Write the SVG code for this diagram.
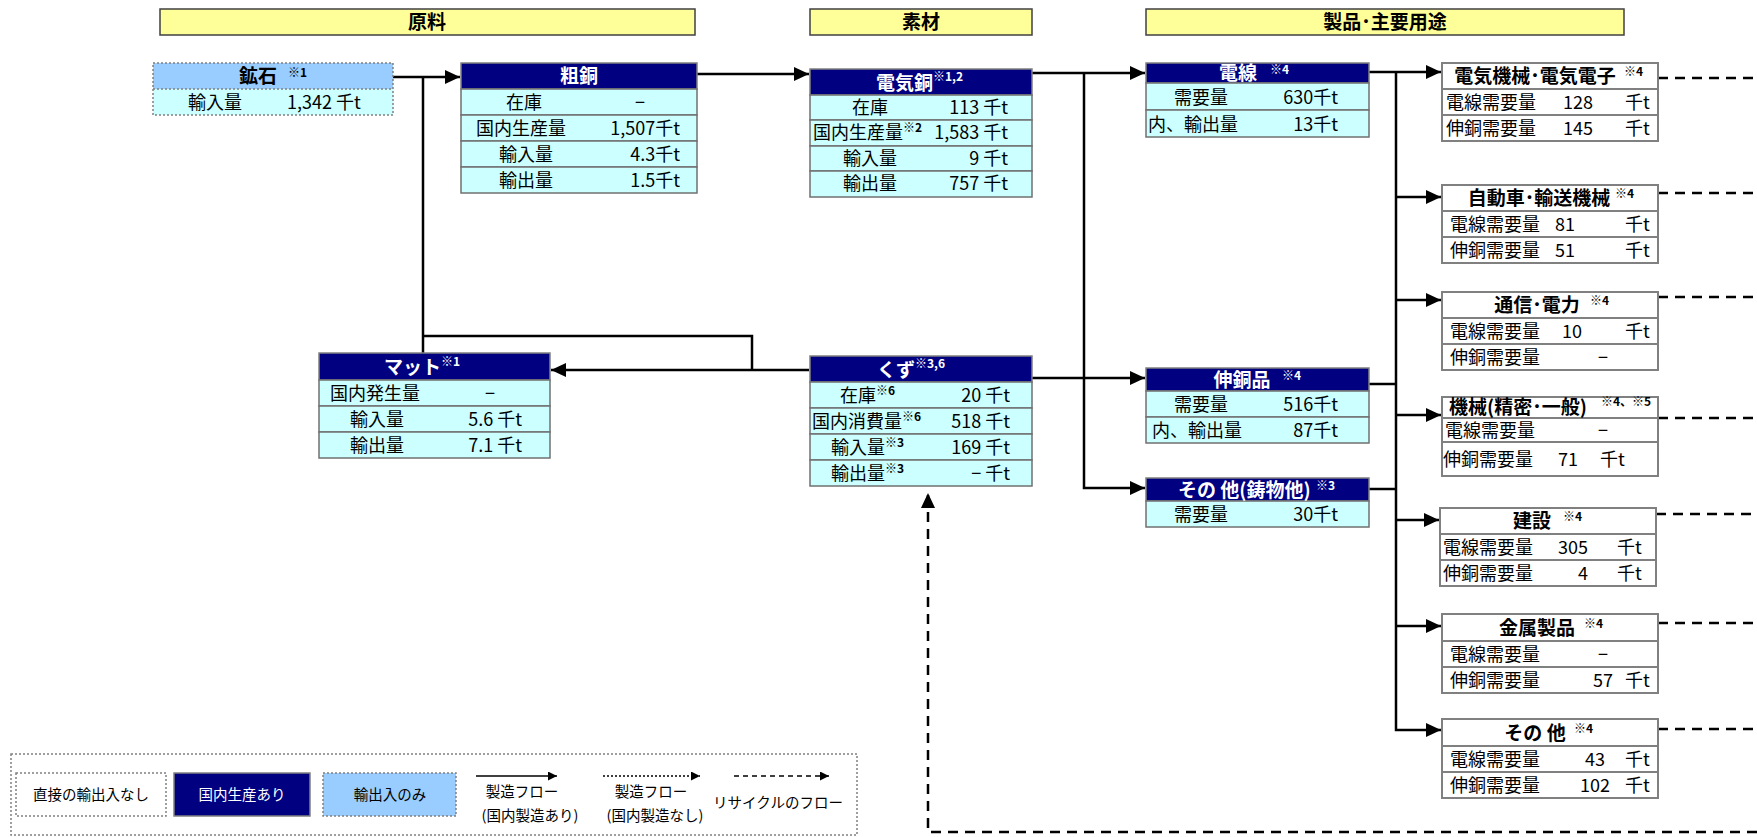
<svg xmlns="http://www.w3.org/2000/svg" width="1757" height="837" viewBox="0 0 1757 837">
<style>
text{font-family:"Noto Sans CJK JP","Noto Sans CJK SC",sans-serif;font-size:18px;fill:#000}
.b{font-weight:bold;font-size:19px}
.w{fill:#fff}
.m{text-anchor:middle}
.e{text-anchor:end}
.sup{font-size:12px;font-weight:bold}
.lg{font-size:14.5px}
.bar{fill:#FFFF99;stroke:#404040;stroke-width:1.5}
.hdr{fill:#000080;stroke:#808080;stroke-width:1.5}
.cell{fill:#CCFFFF;stroke:#707070;stroke-width:1.5}
.wc{fill:#fff;stroke:#808080;stroke-width:2}
.dot{stroke:#808080;stroke-width:1.5;stroke-dasharray:2 2}
.flow{stroke:#000;stroke-width:2.5;fill:none}
.rec{stroke:#000;stroke-width:2.5;stroke-dasharray:10 7;fill:none}
</style>
<defs>
<marker id="ah" markerUnits="userSpaceOnUse" markerWidth="16" markerHeight="14" refX="15" refY="7" orient="auto"><path d="M0,0 L15,7 L0,14 z" fill="#000"/></marker>
<marker id="as" markerUnits="userSpaceOnUse" markerWidth="10" markerHeight="9" refX="9" refY="4.5" orient="auto"><path d="M0,0 L9,4.5 L0,9 z" fill="#000"/></marker>
</defs>
<rect width="1757" height="837" fill="#fff"/>

<g id="headers">
<rect class="bar" x="160" y="9" width="535" height="26"/>
<text class="b m" x="427" y="29">原料</text>
<rect class="bar" x="810" y="9" width="222" height="26"/>
<text class="b m" x="921" y="29">素材</text>
<rect class="bar" x="1146" y="9" width="478" height="26"/>
<text class="b m" x="1385" y="29">製品･主要用途</text>
</g>

<g id="connectors">
<path class="flow" d="M393,77 H460" marker-end="url(#ah)"/>
<path class="flow" d="M423,77 V353"/>
<path class="flow" d="M809,370 H551" marker-end="url(#ah)"/>
<path class="flow" d="M752,370 V336 H423"/>
<path class="flow" d="M697,74 H809" marker-end="url(#ah)"/>
<path class="flow" d="M1032,73 H1145" marker-end="url(#ah)"/>
<path class="flow" d="M1084,73 V488 H1145" marker-end="url(#ah)"/>
<path class="flow" d="M1032,378 H1145" marker-end="url(#ah)"/>
<path class="flow" d="M1369,72 H1441" marker-end="url(#ah)"/>
<path class="flow" d="M1369,384 H1396"/>
<path class="flow" d="M1369,489 H1396"/>
<path class="flow" d="M1396,72 V730 H1441" marker-end="url(#ah)"/>
<path class="flow" d="M1396,197 H1441" marker-end="url(#ah)"/>
<path class="flow" d="M1396,300 H1441" marker-end="url(#ah)"/>
<path class="flow" d="M1396,415 H1441" marker-end="url(#ah)"/>
<path class="flow" d="M1396,520 H1439" marker-end="url(#ah)"/>
<path class="flow" d="M1396,626 H1441" marker-end="url(#ah)"/>
<path class="rec" d="M1658,78 H1757"/>
<path class="rec" d="M1658,193 H1757"/>
<path class="rec" d="M1658,297 H1757"/>
<path class="rec" d="M1658,418 H1757"/>
<path class="rec" d="M1656,514 H1757"/>
<path class="rec" d="M1658,623 H1757"/>
<path class="rec" d="M1658,729 H1757"/>
<path class="rec" d="M1757,832 H928 V493" marker-end="url(#ah)"/>
</g>

<g id="ore">
<rect x="153" y="63" width="240" height="26" fill="#99CCFF"/>
<rect x="153" y="89" width="240" height="26" fill="#CCFFFF"/>
<rect class="dot" x="153" y="63" width="240" height="52" fill="none"/>
<line class="dot" x1="153" y1="89" x2="393" y2="89"/>
<text class="b m" x="258" y="83">鉱石</text>
<text class="sup" x="288" y="77">※1</text>
<text class="m" x="215" y="109">輸入量</text>
<text x="287" y="109">1,342 千t</text>
</g>

<g id="crude">
<rect class="hdr" x="461" y="63" width="236" height="26"/>
<rect class="cell" x="461" y="89" width="236" height="26"/>
<rect class="cell" x="461" y="115" width="236" height="26"/>
<rect class="cell" x="461" y="141" width="236" height="26"/>
<rect class="cell" x="461" y="167" width="236" height="26"/>
<text class="b w m" x="579" y="83">粗銅</text>
<text class="m" x="524" y="109">在庫</text><text class="m" x="640" y="109">−</text>
<text class="m" x="521" y="135">国内生産量</text><text class="e" x="680" y="135">1,507千t</text>
<text class="m" x="526" y="161">輸入量</text><text class="e" x="680" y="161">4.3千t</text>
<text class="m" x="526" y="187">輸出量</text><text class="e" x="680" y="187">1.5千t</text>
</g>

<g id="cathode">
<rect class="hdr" x="810" y="69" width="222" height="26"/>
<rect class="cell" x="810" y="95" width="222" height="25"/>
<rect class="cell" x="810" y="120" width="222" height="26"/>
<rect class="cell" x="810" y="146" width="222" height="25"/>
<rect class="cell" x="810" y="171" width="222" height="26"/>
<text class="b w" x="876" y="90">電気銅<tspan class="sup w" dy="-9">※1,2</tspan></text>
<text class="m" x="870" y="114">在庫</text><text class="e" x="1008" y="114">113 千t</text>
<text x="813" y="139">国内生産量<tspan class="sup" dy="-7">※2</tspan></text><text class="e" x="1008" y="139">1,583 千t</text>
<text class="m" x="870" y="165">輸入量</text><text class="e" x="1008" y="165">9 千t</text>
<text class="m" x="870" y="190">輸出量</text><text class="e" x="1008" y="190">757 千t</text>
</g>

<g id="matte">
<rect class="hdr" x="319" y="353" width="231" height="27"/>
<rect class="cell" x="319" y="380" width="231" height="26"/>
<rect class="cell" x="319" y="406" width="231" height="26"/>
<rect class="cell" x="319" y="432" width="231" height="26"/>
<text class="b w m" x="422" y="374">マット<tspan class="sup w" dy="-8">※1</tspan></text>
<text x="330" y="400">国内発生量</text><text class="m" x="490" y="400">−</text>
<text class="m" x="377" y="426">輸入量</text><text class="e" x="522" y="426">5.6 千t</text>
<text class="m" x="377" y="452">輸出量</text><text class="e" x="522" y="452">7.1 千t</text>
</g>

<g id="scrap">
<rect class="hdr" x="810" y="356" width="222" height="26"/>
<rect class="cell" x="810" y="382" width="222" height="26"/>
<rect class="cell" x="810" y="408" width="222" height="26"/>
<rect class="cell" x="810" y="434" width="222" height="26"/>
<rect class="cell" x="810" y="460" width="222" height="26"/>
<text class="b w" x="877" y="377">くず<tspan class="sup w" dy="-9">※3,6</tspan></text>
<text x="840" y="402">在庫<tspan class="sup" dy="-7">※6</tspan></text><text class="e" x="1010" y="402">20 千t</text>
<text x="812" y="428">国内消費量<tspan class="sup" dy="-7">※6</tspan></text><text class="e" x="1010" y="428">518 千t</text>
<text x="831" y="454">輸入量<tspan class="sup" dy="-7">※3</tspan></text><text class="e" x="1010" y="454">169 千t</text>
<text x="831" y="480">輸出量<tspan class="sup" dy="-7">※3</tspan></text><text class="e" x="1010" y="480">− 千t</text>
</g>

<g id="wire">
<rect class="hdr" x="1146" y="63" width="223" height="20"/>
<rect class="cell" x="1146" y="83" width="223" height="27"/>
<rect class="cell" x="1146" y="110" width="223" height="27"/>
<text class="b w m" x="1238" y="80">電線</text><text class="sup w" x="1270" y="74">※4</text>
<text class="m" x="1201" y="104">需要量</text><text class="e" x="1338" y="104">630千t</text>
<text x="1148" y="131">内、輸出量</text><text class="e" x="1338" y="131">13千t</text>
</g>

<g id="brass">
<rect class="hdr" x="1146" y="368" width="223" height="23"/>
<rect class="cell" x="1146" y="391" width="223" height="26"/>
<rect class="cell" x="1146" y="417" width="223" height="26"/>
<text class="b w m" x="1242" y="387">伸銅品</text><text class="sup w" x="1282" y="380">※4</text>
<text class="m" x="1201" y="411">需要量</text><text class="e" x="1338" y="411">516千t</text>
<text x="1152" y="437">内、輸出量</text><text class="e" x="1338" y="437">87千t</text>
</g>

<g id="casting">
<rect class="hdr" x="1146" y="478" width="223" height="23"/>
<rect class="cell" x="1146" y="501" width="223" height="26"/>
<text class="b w" x="1178" y="497">その 他(鋳物他)</text><text class="sup w" x="1316" y="490">※3</text>
<text class="m" x="1201" y="521">需要量</text><text class="e" x="1338" y="521">30千t</text>
</g>

<g id="use-electric">
<rect class="wc" x="1442" y="63" width="216" height="78"/>
<line class="wc" x1="1442" y1="89" x2="1658" y2="89"/><line class="wc" x1="1442" y1="115" x2="1658" y2="115"/>
<text class="b m" x="1535" y="83">電気機械･電気電子</text><text class="sup" x="1624" y="76">※4</text>
<text x="1446" y="109">電線需要量</text><text x="1563" y="109">128</text><text x="1625" y="109">千t</text>
<text x="1446" y="135">伸銅需要量</text><text x="1563" y="135">145</text><text x="1625" y="135">千t</text>
</g>

<g id="use-auto">
<rect class="wc" x="1442" y="185" width="216" height="78"/>
<line class="wc" x1="1442" y1="211" x2="1658" y2="211"/><line class="wc" x1="1442" y1="237" x2="1658" y2="237"/>
<text class="b m" x="1539" y="205">自動車･輸送機械</text><text class="sup" x="1615" y="198">※4</text>
<text x="1450" y="231">電線需要量</text><text x="1555" y="231">81</text><text x="1625" y="231">千t</text>
<text x="1450" y="257">伸銅需要量</text><text x="1555" y="257">51</text><text x="1625" y="257">千t</text>
</g>

<g id="use-telecom">
<rect class="wc" x="1442" y="292" width="216" height="78"/>
<line class="wc" x1="1442" y1="318" x2="1658" y2="318"/><line class="wc" x1="1442" y1="344" x2="1658" y2="344"/>
<text class="b m" x="1537" y="312">通信･電力</text><text class="sup" x="1590" y="305">※4</text>
<text x="1450" y="338">電線需要量</text><text x="1562" y="338">10</text><text x="1625" y="338">千t</text>
<text x="1450" y="364">伸銅需要量</text><text class="m" x="1603" y="364">−</text>
</g>

<g id="use-machine">
<rect class="wc" x="1442" y="397" width="216" height="79"/>
<line class="wc" x1="1442" y1="418" x2="1658" y2="418"/><line class="wc" x1="1442" y1="442" x2="1658" y2="442"/>
<text class="b" x="1449" y="414">機械(精密･一般)</text><text class="sup" x="1601" y="406">※4、※5</text>
<text x="1445" y="437">電線需要量</text><text class="m" x="1603" y="437">−</text>
<text x="1443" y="466">伸銅需要量</text><text x="1558" y="466">71</text><text x="1600" y="466">千t</text>
</g>

<g id="use-construction">
<rect class="wc" x="1440" y="508" width="216" height="78"/>
<line class="wc" x1="1440" y1="534" x2="1656" y2="534"/><line class="wc" x1="1440" y1="560" x2="1656" y2="560"/>
<text class="b m" x="1532" y="528">建設</text><text class="sup" x="1563" y="521">※4</text>
<text x="1443" y="554">電線需要量</text><text x="1558" y="554">305</text><text x="1617" y="554">千t</text>
<text x="1443" y="580">伸銅需要量</text><text x="1578" y="580">4</text><text x="1617" y="580">千t</text>
</g>

<g id="use-metal">
<rect class="wc" x="1442" y="614" width="216" height="79"/>
<line class="wc" x1="1442" y1="641" x2="1658" y2="641"/><line class="wc" x1="1442" y1="667" x2="1658" y2="667"/>
<text class="b m" x="1537" y="635">金属製品</text><text class="sup" x="1584" y="628">※4</text>
<text x="1450" y="661">電線需要量</text><text class="m" x="1603" y="661">−</text>
<text x="1450" y="687">伸銅需要量</text><text x="1593" y="687">57</text><text x="1625" y="687">千t</text>
</g>

<g id="use-other">
<rect class="wc" x="1442" y="719" width="216" height="79"/>
<line class="wc" x1="1442" y1="746" x2="1658" y2="746"/><line class="wc" x1="1442" y1="772" x2="1658" y2="772"/>
<text class="b m" x="1535" y="740">その 他</text><text class="sup" x="1574" y="733">※4</text>
<text x="1450" y="766">電線需要量</text><text x="1585" y="766">43</text><text x="1625" y="766">千t</text>
<text x="1450" y="792">伸銅需要量</text><text x="1580" y="792">102</text><text x="1625" y="792">千t</text>
</g>

<g id="legend">
<rect class="dot" x="11" y="754" width="846" height="81" fill="#fff" stroke="#404040"/>
<rect class="dot" x="16" y="773" width="150" height="43" fill="#fff"/>
<text class="lg m" x="91" y="800">直接の輸出入なし</text>
<rect class="hdr" x="174" y="773" width="136" height="43"/>
<text class="lg m w" x="242" y="800">国内生産あり</text>
<rect class="dot" x="323" y="773" width="133" height="43" fill="#99CCFF"/>
<text class="lg m" x="390" y="800">輸出入のみ</text>
<path d="M476,776 H557" stroke="#000" stroke-width="1.5" marker-end="url(#as)"/>
<text class="lg m" x="522" y="797">製造フロー</text>
<text class="lg m" x="530" y="821">(国内製造あり)</text>
<path d="M603,776 H700" stroke="#000" stroke-width="1.5" stroke-dasharray="2 2" marker-end="url(#as)"/>
<text class="lg m" x="651" y="797">製造フロー</text>
<text class="lg m" x="655" y="821">(国内製造なし)</text>
<path d="M734,776 H829" stroke="#000" stroke-width="1.5" stroke-dasharray="5 4" marker-end="url(#as)"/>
<text class="lg m" x="778" y="808">リサイクルのフロー</text>
</g>
</svg>
